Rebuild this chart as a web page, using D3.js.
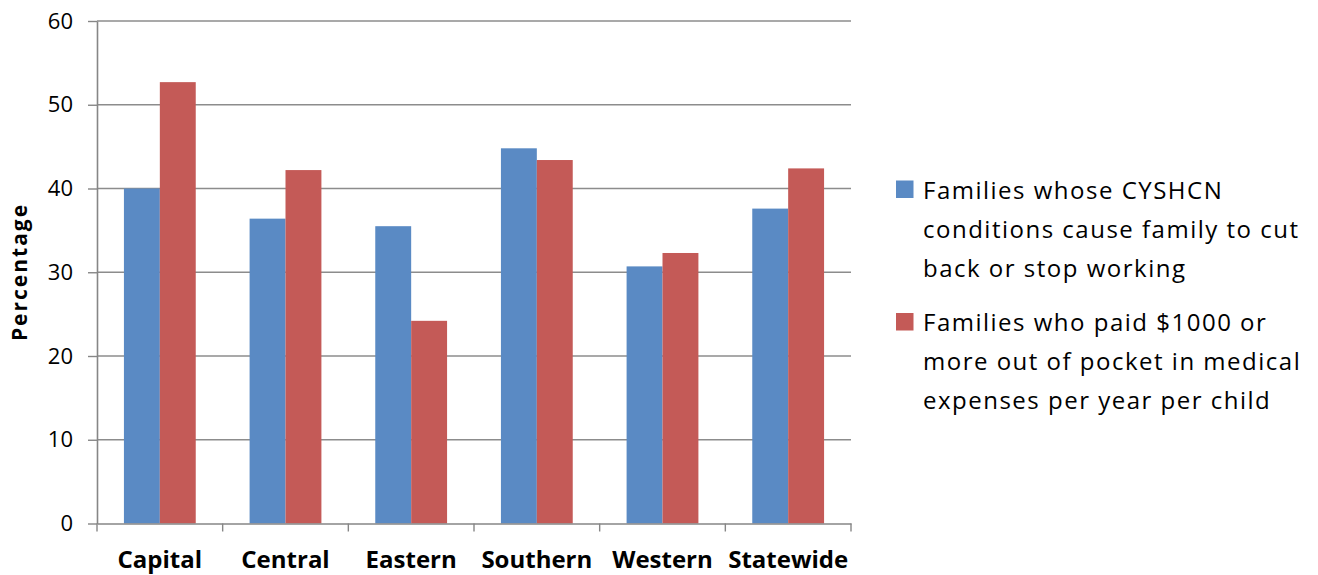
<!DOCTYPE html>
<html>
<head>
<meta charset="utf-8">
<script src="https://cdn.jsdelivr.net/npm/d3@7"></script>
<style>
  html, body { margin: 0; padding: 0; background: #fff; }
  svg { display: block; font-family: "Open Sans", Lato, sans-serif; }
</style>
</head>
<body>
<svg id="chart" width="1318" height="575"></svg>
<script>
// Regions along the x axis
const categories = ["Capital", "Central", "Eastern", "Southern", "Western", "Statewide"];

// Percentage of families, by region
const cutBackWork = [40.0, 36.4, 35.5, 44.8, 30.7, 37.6];
const paidOver1000 = [52.7, 42.2, 24.2, 43.4, 32.3, 42.4];

const seriesNames = [
  ["Families whose CYSHCN", "conditions cause family to cut", "back or stop working"],
  ["Families who paid $1000 or", "more out of pocket in medical", "expenses per year per child"]
];
const seriesColors = ["#5A8AC4", "#C45A57"];
const yTicks = [0, 10, 20, 30, 40, 50, 60];

const series = [cutBackWork, paidOver1000];
const FONT = "'Open Sans', sans-serif";

const svg = d3.select("#chart");
const plot = { left: 97, right: 851, top: 21, bottom: 523.5 };

const x = d3.scaleBand().domain(categories).range([plot.left, plot.right]).padding(0);
const y = d3.scaleLinear().domain([0, 60]).range([plot.bottom, plot.top]);

// Two bars per category with a 150% gap between clusters
const barW = x.bandwidth() / 3.5;
const inner = d3.scaleBand().domain([0, 1]).range([0, 2 * barW]).padding(0);

// Horizontal gridlines
svg.append("g")
  .selectAll("line")
  .data(yTicks.filter(d => d > 0))
  .join("line")
  .attr("x1", plot.left).attr("x2", plot.right)
  .attr("y1", d => y(d)).attr("y2", d => y(d))
  .attr("stroke", "#8C8C8C").attr("stroke-width", 1.4);

// Bars
const groups = svg.append("g")
  .selectAll("g")
  .data(categories)
  .join("g")
  .attr("transform", c => `translate(${x(c) + (x.bandwidth() - 2 * barW) / 2},0)`);

groups.selectAll("rect")
  .data((c, i) => series.map((s, k) => ({ k, v: s[i] })))
  .join("rect")
  .attr("x", d => inner(d.k))
  .attr("width", barW)
  .attr("y", d => y(d.v))
  .attr("height", d => y(0) - y(d.v))
  .attr("fill", d => seriesColors[d.k]);

// Y axis
const yAxis = svg.append("g")
  .attr("transform", `translate(${plot.left},0)`)
  .call(d3.axisLeft(y).tickValues(yTicks).tickSize(9).tickPadding(15).tickSizeOuter(0));
yAxis.select(".domain").attr("stroke", "#868686").attr("stroke-width", 1.6);
yAxis.selectAll(".tick line").attr("stroke", "#868686").attr("stroke-width", 1.4);
yAxis.selectAll(".tick text")
  .attr("font-family", FONT)
  .attr("font-size", 22).attr("fill", "#000");

// X axis with ticks at category boundaries
const xAxis = svg.append("g")
  .attr("transform", `translate(0,${plot.bottom})`)
  .call(d3.axisBottom(x).tickSize(0).tickPadding(27));
xAxis.select(".domain").attr("stroke", "#868686").attr("stroke-width", 1.6);
xAxis.selectAll(".tick text")
  .attr("font-family", FONT)
  .attr("font-size", 24).attr("font-weight", "bold").attr("fill", "#000");
xAxis.append("g")
  .selectAll("line")
  .data(categories.map(c => x(c)).concat([x(categories[categories.length - 1]) + x.bandwidth()]))
  .join("line")
  .attr("x1", d => d).attr("x2", d => d)
  .attr("y1", 0).attr("y2", 8)
  .attr("stroke", "#868686").attr("stroke-width", 1.4);

// Y axis title
svg.append("text")
  .attr("transform", `translate(27,272) rotate(-90)`)
  .attr("text-anchor", "middle")
  .attr("font-family", FONT)
  .attr("font-size", 21).attr("font-weight", "bold")
  .attr("letter-spacing", 2).attr("fill", "#000")
  .text("Percentage");

// Legend
const legend = svg.append("g").attr("transform", "translate(896,0)");
const legendTop = [180.5, 313];
seriesNames.forEach((lines, k) => {
  const g = legend.append("g").attr("transform", `translate(0,${legendTop[k]})`);
  g.append("rect").attr("width", 17.5).attr("height", 17.5).attr("fill", seriesColors[k]);
  g.selectAll("text")
    .data(lines)
    .join("text")
    .attr("x", 27)
    .attr("y", (d, i) => 18 + i * 39)
    .attr("font-family", FONT)
    .attr("font-size", 24)
    .attr("letter-spacing", 1.5)
    .attr("fill", "#000")
    .text(d => d);
});
</script>
</body>
</html>
